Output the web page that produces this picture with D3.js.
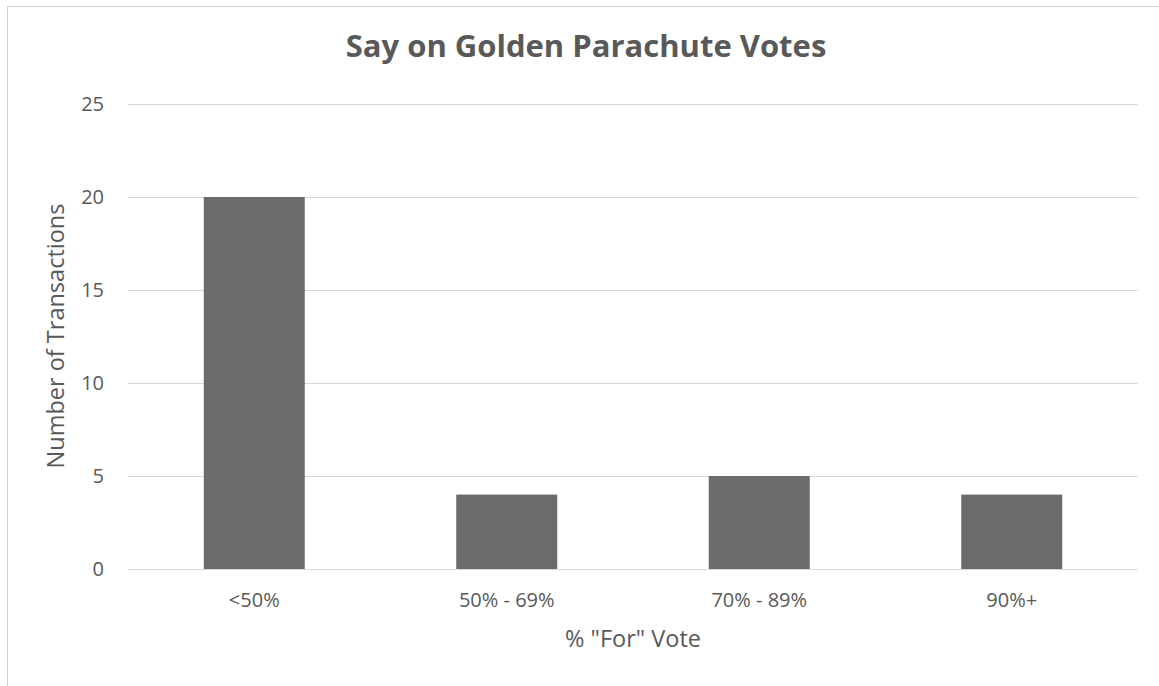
<!DOCTYPE html>
<html><head><meta charset="utf-8">
<script src="https://cdn.jsdelivr.net/npm/d3@7"></script>
<style>body{margin:0;background:#fff}svg{display:block}</style>
</head><body>
<script>
const categories = ["<50%", "50% - 69%", "70% - 89%", "90%+"];
const values = [20, 4, 5, 4];
const yTicks = [0, 5, 10, 15, 20, 25];
const title = "Say on Golden Parachute Votes";
const xTitle = '% "For" Vote';
const yTitle = "Number of Transactions";

(function () {
const W = 1159, H = 686;
const svg = d3.select("body").append("svg").attr("width", W).attr("height", H);
const font = "'Open Sans', sans-serif";
const textColor = "#595959";

// outer border (partially visible)
svg.append("rect").attr("x", 7.5).attr("y", 6.5).attr("width", W + 20).attr("height", H + 20)
  .attr("fill", "none").attr("stroke", "#d0d0d0").attr("stroke-width", 1);

const pLeft = 128, pRight = 1138, pTop = 104, pBottom = 569;
const x = d3.scaleBand().domain(categories).range([pLeft, pRight]).paddingInner(0.6).paddingOuter(0.3);
const y = d3.scaleLinear().domain([0, 25]).range([pBottom, pTop]);

// gridlines
svg.append("g").selectAll("line").data(yTicks).join("line")
  .attr("x1", pLeft).attr("x2", pRight)
  .attr("y1", d => Math.round(y(d)) + 0.5).attr("y2", d => Math.round(y(d)) + 0.5)
  .attr("stroke", "#d9d9d9").attr("stroke-width", 1);

// bars
svg.append("g").selectAll("rect").data(values).join("rect")
  .attr("x", (d, i) => x(categories[i]))
  .attr("width", x.bandwidth())
  .attr("y", d => y(d))
  .attr("height", d => y(0) - y(d))
  .attr("fill", "#6b6b6b");

// y tick labels
const yAxis = d3.axisLeft(y).tickValues(yTicks).tickSize(0).tickPadding(0);
const gy = svg.append("g").attr("transform", `translate(${pLeft - 24},0)`).call(yAxis);
gy.select(".domain").remove();
gy.selectAll("text").attr("font-family", font).attr("font-size", 20).attr("fill", textColor);

// x tick labels
const xAxis = d3.axisBottom(x).tickSize(0).tickPadding(0);
const gx = svg.append("g").attr("transform", `translate(0,${pBottom + 24})`).call(xAxis);
gx.select(".domain").remove();
gx.selectAll("text").attr("font-family", font).attr("font-size", 20).attr("fill", textColor);

// title
svg.append("text").attr("x", 586).attr("y", 57).attr("text-anchor", "middle")
  .attr("font-family", font).attr("font-weight", "bold").attr("font-size", 31)
  .attr("fill", textColor).text(title);

// axis titles
svg.append("text").attr("x", 633).attr("y", 647).attr("text-anchor", "middle")
  .attr("font-family", font).attr("font-size", 23.5).attr("fill", textColor).text(xTitle);
svg.append("text").attr("transform", "translate(64,336) rotate(-90)").attr("text-anchor", "middle")
  .attr("font-family", font).attr("font-size", 23.5).attr("fill", textColor).text(yTitle);
})();
</script>
</body></html>
